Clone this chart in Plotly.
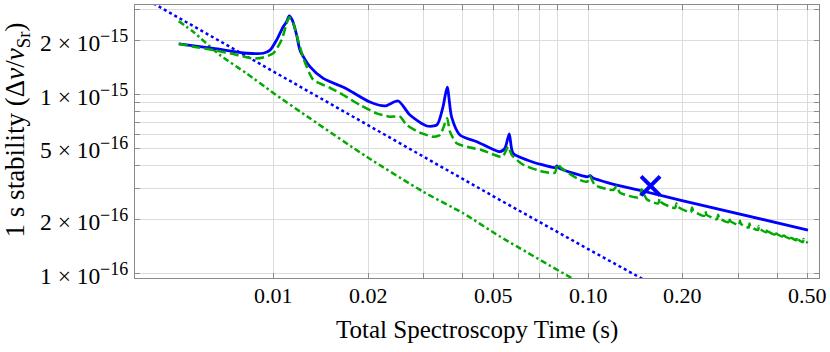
import math
import plotly.graph_objects as go

# ---------------- data ----------------
blue_solid_x = [0.005, 0.00644, 0.00822, 0.00928, 0.00975, 0.01024, 0.01074, 0.01101, 0.01122,
                0.01147, 0.01185, 0.01214, 0.01306, 0.0144, 0.01663, 0.0175, 0.02026, 0.02262,
                0.02492, 0.02716, 0.03076, 0.03309, 0.03458, 0.03567, 0.03684, 0.03915, 0.04434,
                0.05248, 0.05444, 0.05617, 0.05771, 0.06393, 0.07846, 0.0796, 0.08078, 0.0995,
                0.1014, 0.1033, 0.1233, 0.148, 0.1959, 0.5]
blue_solid_y = [1.92e-15, 1.81e-15, 1.70e-15, 1.70e-15, 1.77e-15, 2.02e-15, 2.39e-15, 2.55e-15, 2.75e-15,
                2.61e-15, 2.15e-15, 1.77e-15, 1.43e-15, 1.23e-15, 1.10e-15, 1.05e-15, 9.08e-16, 8.63e-16,
                9.20e-16, 7.68e-16, 6.67e-16, 6.76e-16, 8.52e-16, 1.10e-15, 7.48e-16, 5.94e-16, 5.45e-16,
                4.79e-16, 5.02e-16, 6.02e-16, 4.71e-16, 4.31e-16, 3.91e-16, 3.99e-16, 3.88e-16, 3.47e-16,
                3.52e-16, 3.43e-16, 3.12e-16, 2.90e-16, 2.57e-16, 1.75e-16]

green_dashed_x = [0.005, 0.00556, 0.00644, 0.00727, 0.00863, 0.00928, 0.00999, 0.01062, 0.01101, 0.01122,
                  0.01156, 0.01185, 0.01244, 0.01338, 0.01512, 0.01667, 0.01884, 0.02128, 0.02346, 0.02524,
                  0.02651, 0.02922, 0.0322, 0.03383, 0.03508, 0.03567, 0.03639, 0.03822, 0.04317, 0.04585,
                  0.0534, 0.05576, 0.05716, 0.0622, 0.07206, 0.07846, 0.07982, 0.08242, 0.09425, 0.09943,
                  0.1014, 0.1052, 0.1202, 0.1233, 0.1263, 0.1462, 0.148, 0.1536,
                  0.167, 0.169, 0.171, 0.189, 0.191, 0.193, 0.212, 0.214, 0.216, 0.234, 0.236, 0.238,
                  0.257, 0.259, 0.261, 0.279, 0.281, 0.283, 0.302, 0.304, 0.306, 0.324, 0.326, 0.328,
                  0.347, 0.349, 0.351, 0.369, 0.371, 0.373, 0.392, 0.394, 0.396, 0.414, 0.416, 0.418,
                  0.437, 0.439, 0.441, 0.459, 0.461, 0.463, 0.482, 0.484, 0.486, 0.5]
green_dashed_y = [1.92e-15, 1.85e-15, 1.77e-15, 1.70e-15, 1.59e-15, 1.61e-15, 1.70e-15, 2.02e-15, 2.50e-15, 2.70e-15,
                  2.50e-15, 2.15e-15, 1.60e-15, 1.21e-15, 1.09e-15, 9.94e-16, 8.74e-16, 7.85e-16, 7.52e-16, 7.52e-16,
                  6.76e-16, 6.12e-16, 5.81e-16, 5.94e-16, 6.90e-16, 7.36e-16, 6.20e-16, 5.34e-16, 5.01e-16, 4.90e-16,
                  4.49e-16, 5.11e-16, 4.60e-16, 4.05e-16, 3.70e-16, 3.66e-16, 4.09e-16, 3.87e-16, 3.33e-16, 3.26e-16,
                  3.50e-16, 3.12e-16, 2.93e-16, 3.08e-16, 2.83e-16, 2.66e-16, 2.96e-16, 2.60e-16,
                  2.46e-16, 2.63e-16, 2.50e-16, 2.32e-16, 2.47e-16, 2.36e-16, 2.20e-16, 2.34e-16, 2.24e-16,
                  2.10e-16, 2.23e-16, 2.13e-16, 2.01e-16, 2.13e-16, 2.04e-16, 1.935e-16, 2.05e-16, 1.965e-16,
                  1.865e-16, 1.97e-16, 1.895e-16, 1.805e-16, 1.90e-16, 1.835e-16, 1.75e-16, 1.84e-16, 1.78e-16,
                  1.70e-16, 1.785e-16, 1.725e-16, 1.65e-16, 1.73e-16, 1.68e-16, 1.61e-16, 1.685e-16, 1.635e-16,
                  1.57e-16, 1.64e-16, 1.595e-16, 1.535e-16, 1.60e-16, 1.56e-16, 1.50e-16, 1.56e-16, 1.525e-16,
                  1.486e-16]

blue_dotted_x = [0.004, 0.01, 0.02, 0.05, 0.1, 0.16]
blue_dotted_y = [3.35e-15, 1.34e-15, 6.72e-16, 2.70e-16, 1.37e-16, 8.7e-17]

green_dashdot_x = [0.005, 0.00556, 0.00676, 0.00822, 0.00999, 0.01306, 0.01978, 0.02994, 0.04012, 0.05248, 0.0908]
green_dashdot_y = [2.57e-15, 2.24e-15, 1.66e-15, 1.31e-15, 1.02e-15, 7.36e-16, 4.49e-16, 2.86e-16, 2.17e-16,
                   1.61e-16, 9.2e-17]

marker_x = [0.158]
marker_y = [3.09e-16]

x_grid_vals = [0.01, 0.02, 0.03, 0.04, 0.05, 0.06, 0.07, 0.08, 0.1, 0.2, 0.3, 0.4, 0.5]
x_label_vals = [0.01, 0.02, 0.05, 0.1, 0.2, 0.5]
x_label_text = ["0.01", "0.02", "0.05", "0.10", "0.20", "0.50"]

y_grid_vals = [1e-16, 2e-16, 3e-16, 4e-16, 5e-16, 6e-16, 7e-16, 8e-16, 9e-16, 1e-15, 2e-15, 3e-15]
y_label_vals = [1e-16, 2e-16, 5e-16, 1e-15, 2e-15]
y_label_mant = ["1 × 10", "2 × 10", "5 × 10", "1 × 10", "2 × 10"]
y_label_exp = ["−16", "−16", "−16", "−15", "−15"]

x_title = "Total Spectroscopy Time (s)"
y_title = "1 s stability (Δ<i>ν</i>/<i>ν</i><sub>Sr</sub>)"

# ---------------- figure ----------------
BLUE = "rgb(0,0,255)"
GREEN = "rgb(0,170,0)"
FRAME = "#8a8a8a"
GRID = "#dcdcdc"
SERIF = "Liberation Serif"
PLOT_L = 135          # left margin in px (for placing tick-label annotations)
PLOT_W = 830 - 135 - 11

fig = go.Figure()
fig.add_trace(go.Scatter(x=blue_dotted_x, y=blue_dotted_y, mode="lines",
                         line=dict(color=BLUE, width=2.5, dash="3px,3px")))
fig.add_trace(go.Scatter(x=green_dashdot_x, y=green_dashdot_y, mode="lines",
                         line=dict(color=GREEN, width=2.5, dash="6px,3px,2.5px,3px", shape="spline", smoothing=0.6)))
fig.add_trace(go.Scatter(x=blue_solid_x, y=blue_solid_y, mode="lines",
                         line=dict(color=BLUE, width=2.8, shape="spline", smoothing=0.7)))
fig.add_trace(go.Scatter(x=green_dashed_x, y=green_dashed_y, mode="lines",
                         line=dict(color=GREEN, width=2.5, dash="9px,4px", shape="spline", smoothing=0.6)))
fig.add_trace(go.Scatter(x=marker_x, y=marker_y, mode="markers",
                         marker=dict(symbol="x-thin", size=19, color=BLUE,
                                     line=dict(color=BLUE, width=4))))

annotations = []
# x tick labels, placed through the x axis' own (log) scale
for v, t in zip(x_label_vals, x_label_text):
    annotations.append(dict(text=t, xref="x", yref="paper", x=math.log10(v), y=0,
                            xanchor="center", yanchor="top", yshift=-3, showarrow=False,
                            font=dict(family=SERIF, size=22, color="black")))
# y tick labels (mantissa × 10 and a raised exponent), placed through the y axis' own (log) scale
for v, m, e in zip(y_label_vals, y_label_mant, y_label_exp):
    annotations.append(dict(text=m, xref="paper", yref="y", x=(102 - PLOT_L) / PLOT_W, y=math.log10(v),
                            xanchor="right", yanchor="middle", yshift=-2, showarrow=False,
                            font=dict(family=SERIF, size=23.5, color="black")))
    annotations.append(dict(text=e, xref="paper", yref="y", x=(98 - PLOT_L) / PLOT_W, y=math.log10(v),
                            xanchor="left", yanchor="middle", yshift=5, showarrow=False,
                            font=dict(family=SERIF, size=18, color="black")))
annotations.append(dict(text=x_title, xref="paper", yref="paper", x=0.5, y=-0.189,
                        xanchor="center", yanchor="middle", showarrow=False,
                        font=dict(family=SERIF, size=25, color="black")))
annotations.append(dict(text=y_title, xref="paper", yref="paper", x=-0.172, y=0.542,
                        xanchor="center", yanchor="middle", textangle=-90, showarrow=False,
                        font=dict(family=SERIF, size=27, color="black")))

axis_common = dict(
    type="log", tickmode="array", showticklabels=False, automargin=False,
    ticks="inside", ticklen=5, tickwidth=1, tickcolor=FRAME,
    showline=True, linecolor=FRAME, linewidth=1, mirror="ticks",
    showgrid=True, gridcolor=GRID, gridwidth=1, zeroline=False,
)

fig.update_layout(
    width=830, height=352,
    margin=dict(l=PLOT_L, r=11, t=5, b=74),
    plot_bgcolor="white", paper_bgcolor="white",
    showlegend=False,
    font=dict(family=SERIF, size=22, color="black"),
    xaxis=dict(range=[math.log10(0.00363), math.log10(0.542)], tickvals=x_grid_vals, **axis_common),
    yaxis=dict(range=[-16.025, -14.5], tickvals=y_grid_vals, **axis_common),
    annotations=annotations,
)

# remove the browser's default page margin so the 830x352 figure sits at the window's origin
fig.write_html("out.html", config={"displayModeBar": False},
               post_script="document.body.style.margin='0';")
